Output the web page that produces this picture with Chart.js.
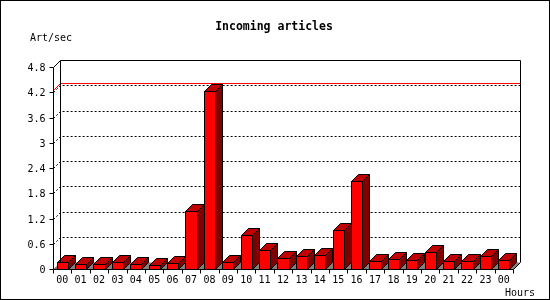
<!DOCTYPE html>
<html>
<head>
<meta charset="utf-8">
<title>Incoming articles</title>
<script src="https://cdn.jsdelivr.net/npm/chart.js@4.4.1/dist/chart.umd.min.js"></script>
<style>
  body { margin: 0; background: #fff; }
  canvas { display: block; }
</style>
</head>
<body>
<canvas id="chart" width="550" height="300"></canvas>
<script>
var hours = ['00', '01', '02', '03', '04', '05', '06', '07', '08', '09', '10', '11',
  '12', '13', '14', '15', '16', '17', '18', '19', '20', '21', '22', '23', '00']
var articles = [0.16, 0.13, 0.13, 0.16, 0.13, 0.10, 0.15, 1.38, 4.23, 0.17, 0.80, 0.46,
  0.27, 0.31, 0.34, 0.93, 2.10, 0.19, 0.24, 0.22, 0.41, 0.19, 0.19, 0.31, 0.22]
var maxRate = 4.25
var yTicks = [0, 0.6, 1.2, 1.8, 2.4, 3, 3.6, 4.2, 4.8]

const DEPTH = 7
const SMALL_FONT = '10px "DejaVu Sans Mono"'
const TITLE_FONT = 'bold 11.5px "DejaVu Sans Mono"'

//3d look: floor, back wall, bars with top and side faces
const threeD = {
  id: 'threeD',
  beforeDraw(chart) {
    const ctx = chart.ctx
    ctx.save()
    ctx.fillStyle = '#fff'
    ctx.fillRect(0, 0, chart.width, chart.height)
    ctx.restore()
  },
  beforeDatasetsDraw(chart) {
    const ctx = chart.ctx
    const a = chart.chartArea
    const y = chart.scales.y
    const L = Math.round(a.left), R = Math.round(a.right), B = Math.round(a.bottom)
    ctx.save()

    // floor
    ctx.fillStyle = '#808080'
    ctx.beginPath()
    ctx.moveTo(L, B + 0.5)
    ctx.lineTo(L + DEPTH, B - DEPTH + 0.5)
    ctx.lineTo(R + DEPTH + 0.5, B - DEPTH + 0.5)
    ctx.lineTo(R + 0.5, B + 0.5)
    ctx.closePath()
    ctx.fill()

    // dotted grid on the back wall
    ctx.strokeStyle = '#000'
    ctx.lineWidth = 1
    ctx.setLineDash([2, 2])
    for (const v of yTicks) {
      if (v == 0 || v == y.max) continue
      const py = Math.round(y.getPixelForValue(v)) + 0.5
      ctx.beginPath()
      ctx.moveTo(L + 0.5, py)
      ctx.lineTo(L + DEPTH + 0.5, py - DEPTH)
      ctx.lineTo(R + DEPTH + 0.5, py - DEPTH)
      ctx.stroke()
    }
    ctx.setLineDash([])

    // max line
    const my = Math.round(y.getPixelForValue(maxRate)) + 0.5
    ctx.strokeStyle = '#ff0000'
    ctx.beginPath()
    ctx.moveTo(L + 0.5, my)
    ctx.lineTo(L + DEPTH + 0.5, my - DEPTH)
    ctx.lineTo(R + DEPTH + 0.5, my - DEPTH)
    ctx.stroke()
    ctx.restore()
  },
  afterDatasetsDraw(chart) {
    const ctx = chart.ctx
    const meta = chart.getDatasetMeta(0)
    ctx.save()
    ctx.strokeStyle = '#000'
    ctx.lineWidth = 1
    for (const el of meta.data) {
      const l = Math.round(el.x - el.width / 2) + 0.5
      const r = Math.round(el.x + el.width / 2) + 0.5
      const t = Math.round(el.y) + 0.5
      const b = Math.round(el.base) + 0.5

      // front
      ctx.fillStyle = '#ff0000'
      ctx.beginPath()
      ctx.rect(l, t, r - l, b - t)
      ctx.fill()
      ctx.stroke()

      // top
      ctx.fillStyle = '#c00000'
      ctx.beginPath()
      ctx.moveTo(l, t)
      ctx.lineTo(l + DEPTH, t - DEPTH)
      ctx.lineTo(r + DEPTH, t - DEPTH)
      ctx.lineTo(r, t)
      ctx.closePath()
      ctx.fill()
      ctx.stroke()

      // side
      ctx.fillStyle = '#800000'
      ctx.beginPath()
      ctx.moveTo(r, t)
      ctx.lineTo(r + DEPTH, t - DEPTH)
      ctx.lineTo(r + DEPTH, b - DEPTH)
      ctx.lineTo(r, b)
      ctx.closePath()
      ctx.fill()
      ctx.stroke()
    }
    ctx.restore()
  },
  afterDraw(chart) {
    const ctx = chart.ctx
    const a = chart.chartArea
    const y = chart.scales.y
    const x = chart.scales.x
    const L = Math.round(a.left) + 0.5, R = Math.round(a.right) + 0.5
    const T = Math.round(a.top) + 0.5, B = Math.round(a.bottom) + 0.5
    ctx.save()
    ctx.strokeStyle = '#000'
    ctx.lineWidth = 1

    // frame
    ctx.beginPath()
    ctx.moveTo(L, B)
    ctx.lineTo(L, T)
    ctx.lineTo(L + DEPTH, T - DEPTH)
    ctx.lineTo(R + DEPTH, T - DEPTH)
    ctx.lineTo(R + DEPTH, B - DEPTH)
    ctx.lineTo(R, B)
    ctx.lineTo(L, B)
    ctx.moveTo(L + DEPTH, T - DEPTH)
    ctx.lineTo(L + DEPTH, B - DEPTH)
    ctx.stroke()

    // y ticks + labels
    ctx.font = SMALL_FONT
    ctx.fillStyle = '#000'
    ctx.textAlign = 'right'
    ctx.textBaseline = 'middle'
    for (const v of yTicks) {
      const py = Math.round(y.getPixelForValue(v)) + 0.5
      ctx.beginPath()
      ctx.moveTo(L - 4, py)
      ctx.lineTo(L, py)
      ctx.stroke()
      ctx.fillText(String(v), L - 8, py + 1)
    }

    // x ticks + labels
    const n = hours.length
    const step = (a.right - a.left) / n
    for (let i = 0; i <= n; i++) {
      const px = Math.round(a.left + i * step) + 0.5
      ctx.beginPath()
      ctx.moveTo(px, B)
      ctx.lineTo(px, B + 4)
      ctx.stroke()
    }
    ctx.textAlign = 'center'
    ctx.textBaseline = 'alphabetic'
    hours.forEach((h, i) => {
      ctx.fillText(h, x.getPixelForValue(i), 283)
    })

    // titles
    ctx.textAlign = 'left'
    ctx.fillText('Art/sec', 30, 41)
    ctx.fillText('Hours', 505, 296)
    ctx.font = TITLE_FONT
    ctx.textAlign = 'center'
    ctx.fillText('Incoming articles', 274, 30)

    // outer border
    ctx.strokeRect(0.5, 0.5, chart.width - 1, chart.height - 1)
    ctx.restore()
  }
}

new Chart(document.getElementById('chart'), {
  type: 'bar',
  data: {
    labels: hours,
    datasets: [{
      label: 'Art/sec',
      data: articles,
      backgroundColor: 'rgba(0,0,0,0)',
      borderWidth: 0,
      categoryPercentage: 1,
      barPercentage: 0.6
    }]
  },
  options: {
    responsive: false,
    animation: false,
    devicePixelRatio: 1,
    layout: {
      padding: { left: 53, right: 37, top: 67, bottom: 31 }
    },
    plugins: {
      legend: { display: false },
      title: { display: false },
      tooltip: { enabled: false }
    },
    scales: {
      x: { display: false },
      y: { display: false, min: 0, max: 4.8 }
    }
  },
  plugins: [threeD]
})
</script>
</body>
</html>
